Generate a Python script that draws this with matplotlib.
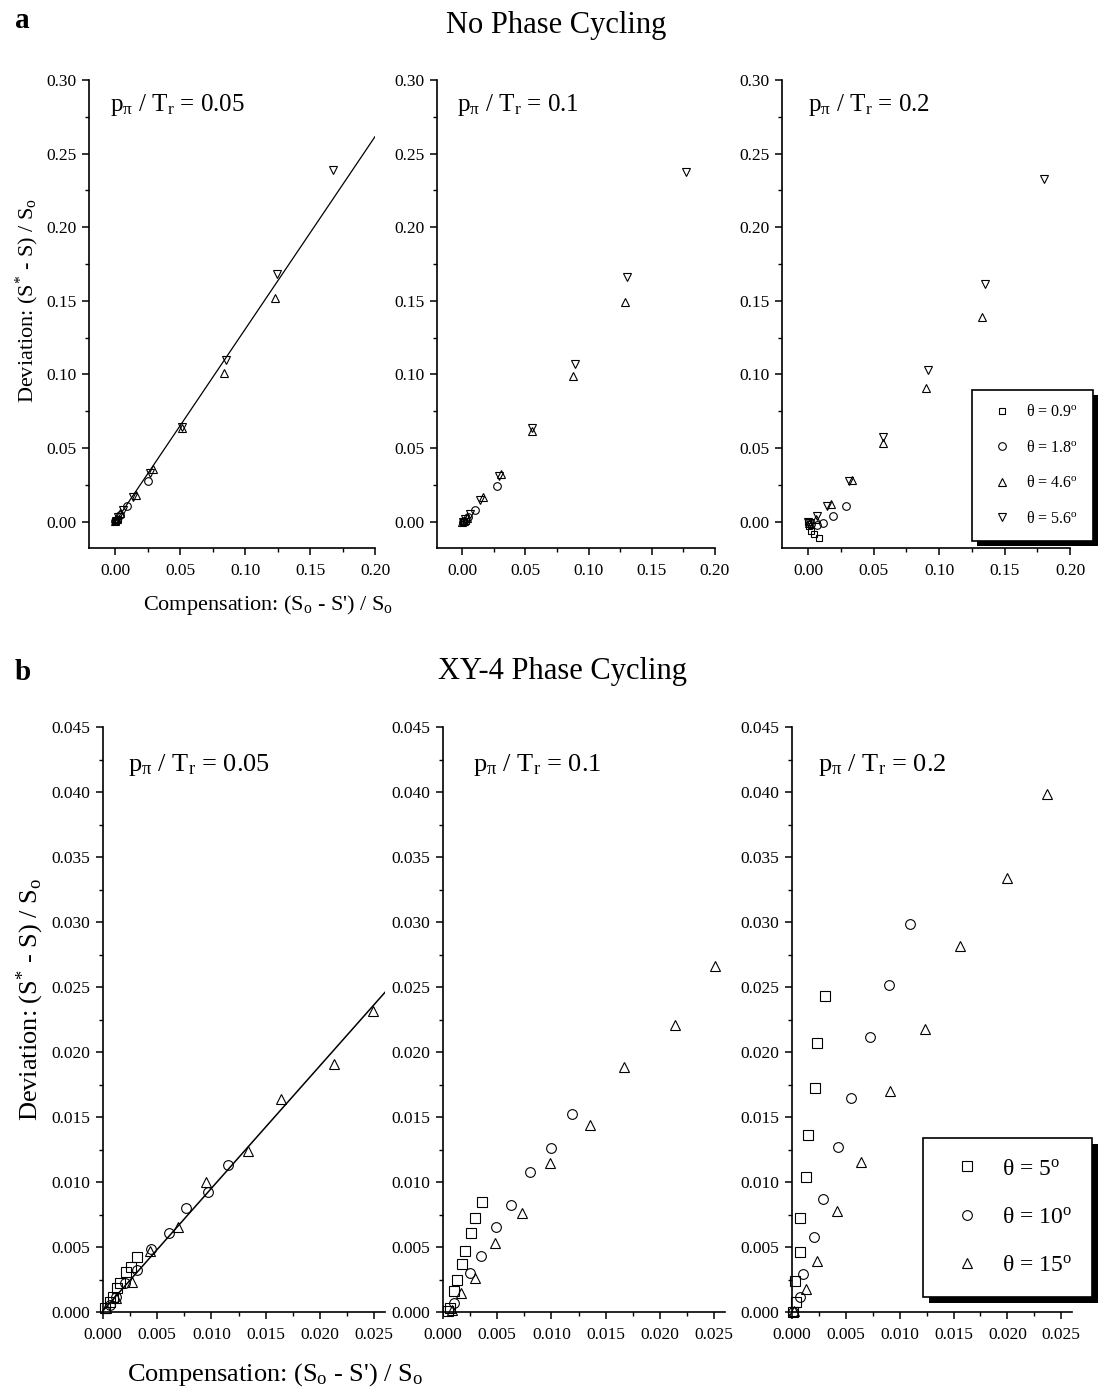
import matplotlib.pyplot as plt
from matplotlib.ticker import MultipleLocator, FormatStrFormatter
from matplotlib.patches import Rectangle
from matplotlib.transforms import IdentityTransform

plt.rcParams['font.family'] = ['Liberation Serif', 'DejaVu Serif']
plt.rcParams['mathtext.fontset'] = 'custom'
plt.rcParams['mathtext.rm'] = 'Liberation Serif'
plt.rcParams['mathtext.it'] = 'Liberation Serif:italic'
plt.rcParams['mathtext.default'] = 'regular'

# ---- data: (compensation, deviation) pairs ----
# panel a, no phase cycling
a_labels = ['θ = 0.9$^{o}$', 'θ = 1.8$^{o}$', 'θ = 4.6$^{o}$', 'θ = 5.6$^{o}$']
a_ratios = ['0.05', '0.1', '0.2']

a1_sq = [(0.002, 0.0015), (0.001, 0.0006), (0.0002, 0.0001)]
a1_ci = [(0.0256, 0.0274), (0.009, 0.0104), (0.004, 0.0045), (0.0015, 0.0012), (0.0003, 0.0002)]
a1_up = [(0.123, 0.152), (0.0838, 0.101), (0.0515, 0.0638), (0.0295, 0.0358), (0.0162, 0.0179),
         (0.0038, 0.0061), (0.0015, 0.0018), (0.0003, 0.0002)]
a1_dn = [(0.1677, 0.239), (0.1246, 0.168), (0.0854, 0.110), (0.0515, 0.064), (0.027, 0.033),
         (0.0141, 0.0168), (0.0064, 0.0081), (0.0025, 0.003), (0.0005, 0.0005)]

a2_sq = [(0.003, 0.0005), (0.0015, -0.0003), (0.0003, -0.0005)]
a2_ci = [(0.0274, 0.024), (0.0103, 0.0081), (0.0045, 0.003), (0.0015, 0.0005), (0.0002, -0.0005)]
a2_up = [(0.129, 0.149), (0.0877, 0.099), (0.0553, 0.0615), (0.0308, 0.0326), (0.0164, 0.0168),
         (0.0037, 0.0025), (0.001, 0.0005), (0.0, -0.0003)]
a2_dn = [(0.177, 0.2376), (0.130, 0.166), (0.0893, 0.107), (0.0553, 0.0635), (0.0287, 0.0308),
         (0.0142, 0.0145), (0.0063, 0.0048), (0.002, 0.0015), (0.0002, 0.0)]

a3_sq = [(0.0, 0.0), (0.001, -0.0032), (0.002, -0.0066), (0.0046, -0.0088), (0.0084, -0.011)]
a3_ci = [(0.029, 0.0104), (0.0186, 0.0036), (0.0117, -0.0009), (0.0066, -0.0027), (0.002, -0.002)]
a3_up = [(0.133, 0.139), (0.090, 0.091), (0.0575, 0.0534), (0.0338, 0.0285), (0.0173, 0.0122),
         (0.006, 0.002), (0.001, -0.001)]
a3_dn = [(0.180, 0.233), (0.135, 0.1616), (0.0916, 0.103), (0.0575, 0.0575), (0.0308, 0.0274),
         (0.0143, 0.0104), (0.0071, 0.0036), (0.0015, -0.0009), (0.0, 0.0)]

a1_fit = (1.31, -0.0005)   # slope, intercept
a1_fit_range = (0.0, 0.20)

# panel b, XY-4 phase cycling
b_labels = ['θ = 5$^{o}$', 'θ = 10$^{o}$', 'θ = 15$^{o}$']
b_ratios = ['0.05', '0.1', '0.2']

b1_sq = [(0.0002, 0.0003), (0.00062, 0.00079), (0.00093, 0.00118), (0.0013, 0.00182), (0.00155, 0.00226),
         (0.0021, 0.00305), (0.00259, 0.00349), (0.00318, 0.00426)]
b1_ci = [(0.00062, 0.00054), (0.00124, 0.00118), (0.00207, 0.00226), (0.00318, 0.00323), (0.00442, 0.00485),
         (0.00608, 0.00605), (0.00766, 0.0080), (0.00967, 0.00926), (0.01157, 0.0113)]
b1_up = [(0.0003, 0.00028), (0.0012, 0.0011), (0.00263, 0.00233), (0.00432, 0.00469), (0.00694, 0.00656),
         (0.0095, 0.00997), (0.01333, 0.0124), (0.0164, 0.0164), (0.02127, 0.0191), (0.02488, 0.02315)]

b2_sq = [(0.0005, 0.0001), (0.00065, 0.00028), (0.00102, 0.00162), (0.00133, 0.00246), (0.00173, 0.00367),
         (0.00204, 0.00469), (0.00256, 0.00605), (0.00296, 0.0072), (0.00358, 0.00849)]
b2_ci = [(0.00102, 0.00067), (0.0025, 0.00298), (0.00352, 0.00433), (0.00488, 0.00651), (0.0063, 0.00823),
         (0.00799, 0.0108), (0.00997, 0.01259), (0.01191, 0.01523)]
b2_up = [(0.0008, 0.00015), (0.00164, 0.00144), (0.00296, 0.00264), (0.00481, 0.00533), (0.00728, 0.00759),
         (0.00984, 0.01144), (0.01352, 0.01438), (0.0167, 0.01887), (0.02142, 0.02208), (0.0251, 0.02664)]

b3_sq = [(0.0001, 0.0), (0.00041, 0.00079), (0.00032, 0.00238), (0.00078, 0.00459), (0.00078, 0.00721),
         (0.00134, 0.01036), (0.00149, 0.01362), (0.00211, 0.01726), (0.00236, 0.02072), (0.0031, 0.02431)]
b3_ci = [(0.0001, 0.0), (0.00072, 0.00113), (0.00102, 0.00292), (0.00205, 0.00575), (0.00288, 0.00867),
         (0.00428, 0.01272), (0.00552, 0.01649), (0.00728, 0.02113), (0.00899, 0.02513), (0.011, 0.02985)]
b3_up = [(0.0002, 0.0001), (0.00134, 0.00175), (0.00236, 0.00392), (0.00422, 0.00777), (0.00645, 0.01151),
         (0.00908, 0.017), (0.01236, 0.02177), (0.01561, 0.02818), (0.01998, 0.03336), (0.02364, 0.03985)]

b1_fit = (0.942, 0.0001)
b1_fit_range = (0.0, 0.0262)

W, H = 1098, 1391
fig = plt.figure(figsize=(W / 100, H / 100), dpi=100)


def px_axes(left, top, right, bottom):
    return fig.add_axes([left / W, 1 - bottom / H, (right - left) / W, (bottom - top) / H])


def style(ax, xlim, ylim, major, minor, fmt):
    ax.set_xlim(*xlim)
    ax.set_ylim(*ylim)
    for s in ['top', 'right']:
        ax.spines[s].set_visible(False)
    for s in ['left', 'bottom']:
        ax.spines[s].set_linewidth(1.2)
    ax.xaxis.set_major_locator(MultipleLocator(major))
    ax.xaxis.set_minor_locator(MultipleLocator(minor))
    ax.yaxis.set_major_locator(MultipleLocator(major))
    ax.yaxis.set_minor_locator(MultipleLocator(minor))
    ax.xaxis.set_major_formatter(FormatStrFormatter(fmt))
    ax.yaxis.set_major_formatter(FormatStrFormatter(fmt))
    ax.tick_params(which='major', direction='out', length=5, width=1.1, labelsize=12.5, pad=4)
    ax.tick_params(which='minor', direction='out', length=3, width=1.0)
    ax.tick_params(axis='x', which='major', pad=6)


def points(ax, pts, marker, ms, label=None):
    xs = [p[0] for p in pts]
    ys = [p[1] for p in pts]
    ax.plot(xs, ys, ls='none', marker=marker, mfc='none', mec='black', mew=0.8, ms=ms,
            clip_on=False, label=label, zorder=3)


def shadow_legend(ax, leg, off):
    fig.canvas.draw()
    bb = leg.get_window_extent()
    r = Rectangle((bb.x0 + off, bb.y0 - off), bb.width, bb.height, transform=IdentityTransform(),
                  facecolor='black', edgecolor='none', zorder=4, clip_on=False)
    ax.add_artist(r)


# ---- panel a ----
a_boxes = [(89, 80, 375, 548), (437, 80, 715, 548), (782, 80, 1070, 548)]
a_sets = [(a1_sq, a1_ci, a1_up, a1_dn), (a2_sq, a2_ci, a2_up, a2_dn), (a3_sq, a3_ci, a3_up, a3_dn)]
a_text_x = [110, 457, 808]
a_axes = []
for box, sets, tx, ratio in zip(a_boxes, a_sets, a_text_x, a_ratios):
    ax = px_axes(*box)
    style(ax, (-0.02, 0.20), (-0.018, 0.30), 0.05, 0.025, '%.2f')
    for pts, mk, ms, lab in zip(sets, ['s', 'o', '^', 'v'], [5, 5.5, 6, 6], a_labels):
        points(ax, pts, mk, ms, lab)
    fig.text(tx / W, 1 - 105 / H, r'p$_{\pi}$ / T$_{r}$ = ' + ratio, fontsize=18, va='center', ha='left')
    a_axes.append(ax)

fx = [a1_fit_range[0], a1_fit_range[1]]
fy = [a1_fit[0] * v + a1_fit[1] for v in fx]
a_axes[0].plot(fx, fy, color='black', lw=0.9, zorder=2)

leg_a = a_axes[2].legend(loc='upper left', bbox_to_anchor=(972 / W, 1 - 390 / H), bbox_transform=fig.transFigure,
                         borderaxespad=0, fontsize=11.5, frameon=True, fancybox=False, framealpha=1,
                         edgecolor='black', borderpad=0.9, handlelength=2.0, handletextpad=0.5,
                         labelspacing=1.22)
leg_a.get_frame().set_linewidth(1.2)
leg_a.set_zorder(5)

# ---- panel b ----
b_boxes = [(103, 727, 385, 1312), (443, 727, 725, 1312), (792, 727, 1072, 1312)]
b_sets = [(b1_sq, b1_ci, b1_up), (b2_sq, b2_ci, b2_up), (b3_sq, b3_ci, b3_up)]
b_text_x = [128, 473, 818]
b_axes = []
for box, sets, tx, ratio in zip(b_boxes, b_sets, b_text_x, b_ratios):
    ax = px_axes(*box)
    style(ax, (0.0, 0.026), (0.0, 0.045), 0.005, 0.0025, '%.3f')
    for pts, mk, ms, lab in zip(sets, ['s', 'o', '^'], [6.5, 7, 7.5], b_labels):
        points(ax, pts, mk, ms, lab)
    fig.text(tx / W, 1 - 765 / H, r'p$_{\pi}$ / T$_{r}$ = ' + ratio, fontsize=19, va='center', ha='left')
    b_axes.append(ax)

fx = [b1_fit_range[0], b1_fit_range[1]]
fy = [b1_fit[0] * v + b1_fit[1] for v in fx]
b_axes[0].plot(fx, fy, color='black', lw=1.1, zorder=2)

leg_b = b_axes[2].legend(loc='upper left', bbox_to_anchor=(923 / W, 1 - 1138 / H), bbox_transform=fig.transFigure,
                         borderaxespad=0, fontsize=17, frameon=True, fancybox=False, framealpha=1,
                         edgecolor='black', borderpad=0.85, handlelength=2.0, handletextpad=0.5,
                         labelspacing=1.14)
leg_b.get_frame().set_linewidth(1.2)
leg_b.set_zorder(5)

# ---- titles and labels ----
fig.text(15 / W, 1 - 20 / H, 'a', fontsize=21, fontweight='bold', va='center', ha='left')
fig.text(15 / W, 1 - 672 / H, 'b', fontsize=21, fontweight='bold', va='center', ha='left')
fig.text(556 / W, 1 - 25 / H, 'No Phase Cycling', fontsize=22, va='center', ha='center')
fig.text(563 / W, 1 - 672 / H, 'XY-4 Phase Cycling', fontsize=22, va='center', ha='center')

fig.text(268 / W, 1 - 605 / H, "Compensation: (S$_{o}$ - S') / S$_{o}$", fontsize=16, va='center', ha='center')
fig.text(275 / W, 1 - 1375 / H, "Compensation: (S$_{o}$ - S') / S$_{o}$", fontsize=19, va='center', ha='center')
fig.text(27 / W, 1 - 300 / H, 'Deviation: (S$^{*}$ - S) / S$_{o}$', fontsize=16, rotation=90,
         va='center', ha='center')
fig.text(30 / W, 1 - 1000 / H, 'Deviation: (S$^{*}$ - S) / S$_{o}$', fontsize=19, rotation=90,
         va='center', ha='center')

shadow_legend(a_axes[2], leg_a, 5)
shadow_legend(b_axes[2], leg_b, 6)

fig.savefig('out.png', dpi=100)
